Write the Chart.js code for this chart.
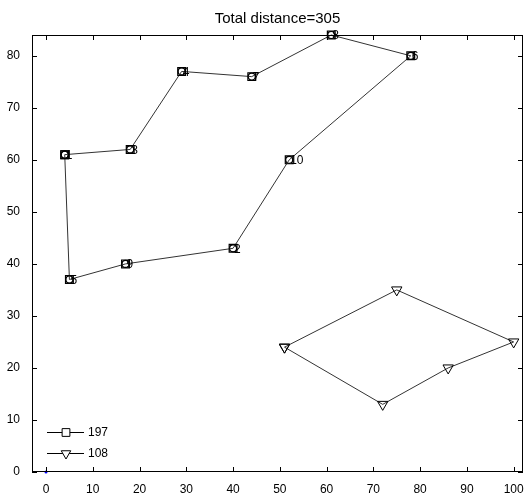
<!DOCTYPE html>
<html>
<head>
<meta charset="utf-8">
<script src="https://cdn.jsdelivr.net/npm/chart.js@4/dist/chart.umd.min.js"></script>
<style>
  html, body { margin: 0; padding: 0; background: #fff; }
  #wrap { position: relative; width: 524px; height: 493px; }
</style>
</head>
<body>
<div id="wrap"><canvas id="c" width="524" height="493"></canvas></div>
<script>
// ---- data ----
const titleText = "Total distance=305";
const routeALabel = "197";
const routeAX = [4, 18, 29, 44, 61, 78, 52, 40, 17, 5, 4];
const routeAY = [61, 62, 77, 76, 84, 80, 60, 43, 40, 37, 61];
const routeANames = ["1", "3", "4", "7", "8", "6", "10", "2", "9", "5"];
const routeBLabel = "108";
const routeBX = [51, 75, 100, 86, 72, 51];
const routeBY = [24, 35, 25, 20, 13, 24];
const depotX = [0];
const depotY = [0];
const xTickValues = [0, 10, 20, 30, 40, 50, 60, 70, 80, 90, 100];
const yTickValues = [0, 10, 20, 30, 40, 50, 60, 70, 80];

const toPts = (xs, ys) => xs.map((x, i) => ({ x: x, y: ys[i] }));
const FONT = '"Liberation Sans", Arial, sans-serif';

const framePlugin = {
  id: 'frame',
  afterDatasetsDraw(chart) {
    const ctx = chart.ctx;
    const a = chart.chartArea;
    const xs = chart.scales.x, ys = chart.scales.y;
    ctx.save();
    // box
    ctx.strokeStyle = '#000';
    ctx.lineWidth = 1;
    ctx.strokeRect(Math.round(a.left) + 0.5, Math.round(a.top) + 0.5,
                   Math.round(a.right - a.left) - 1, Math.round(a.bottom - a.top) - 1);
    // inward ticks
    ctx.beginPath();
    xs.ticks.forEach(t => {
      const px = Math.round(xs.getPixelForValue(t.value)) + 0.5;
      ctx.moveTo(px, a.bottom); ctx.lineTo(px, a.bottom - 5);
      ctx.moveTo(px, a.top); ctx.lineTo(px, a.top + 5);
    });
    ys.ticks.forEach(t => {
      const py = Math.round(ys.getPixelForValue(t.value)) + 0.5;
      ctx.moveTo(a.left, py); ctx.lineTo(a.left + 5, py);
      ctx.moveTo(a.right, py); ctx.lineTo(a.right - 5, py);
    });
    ctx.stroke();
    // point names
    ctx.fillStyle = '#000';
    ctx.font = '12px ' + FONT;
    ctx.textAlign = 'left';
    ctx.textBaseline = 'middle';
    routeANames.forEach((n, i) => {
      const px = xs.getPixelForValue(routeAX[i]);
      const py = ys.getPixelForValue(routeAY[i]);
      ctx.fillText(n, px + 1, py + 1);
    });
    // title
    ctx.font = '15px ' + FONT;
    ctx.textAlign = 'center';
    ctx.textBaseline = 'alphabetic';
    ctx.fillText(titleText, (a.left + a.right) / 2, 23);
    // legend
    const items = [
      { label: routeALabel, style: 'rect', r: 5.5, rot: 0 },
      { label: routeBLabel, style: 'triangle', r: 5.5, rot: 180 }
    ];
    items.forEach((it, k) => {
      const y = 432 + k * 20.5;
      ctx.strokeStyle = '#000';
      ctx.lineWidth = 1;
      ctx.beginPath();
      ctx.moveTo(47, Math.round(y) + 0.5); ctx.lineTo(84, Math.round(y) + 0.5);
      ctx.stroke();
      ctx.fillStyle = '#fff';
      Chart.helpers.drawPoint(ctx, { pointStyle: it.style, radius: it.r, rotation: it.rot, borderWidth: 1 }, 66, Math.round(y) + 0.5);
      ctx.fillStyle = '#000';
      ctx.font = '12px ' + FONT;
      ctx.textAlign = 'left';
      ctx.textBaseline = 'middle';
      ctx.fillText(it.label, 88, y + 1);
    });
    ctx.restore();
  }
};

new Chart(document.getElementById('c'), {
  type: 'scatter',
  data: {
    datasets: [
      {
        label: routeALabel,
        data: toPts(routeAX, routeAY),
        showLine: true,
        clip: false,
        borderColor: '#333',
        borderWidth: 1,
        pointStyle: 'rect',
        pointRadius: 5.5,
        pointBorderColor: '#000',
        pointBackgroundColor: 'rgba(255,255,255,0)',
        pointBorderWidth: 1.2
      },
      {
        label: routeALabel + ' circles',
        data: toPts(routeAX, routeAY),
        showLine: false,
        clip: false,
        pointStyle: 'circle',
        pointRadius: 3.5,
        pointBorderColor: '#000',
        pointBackgroundColor: 'rgba(255,255,255,0)',
        pointBorderWidth: 1.2
      },
      {
        label: routeBLabel,
        data: toPts(routeBX, routeBY),
        showLine: true,
        clip: false,
        borderColor: '#333',
        borderWidth: 1,
        pointStyle: 'triangle',
        pointRotation: 180,
        pointRadius: 6,
        pointBorderColor: '#000',
        pointBackgroundColor: 'rgba(255,255,255,0)',
        pointBorderWidth: 1
      },
      {
        label: 'depot',
        data: toPts(depotX, depotY),
        showLine: false,
        clip: false,
        pointStyle: 'circle',
        pointRadius: 1.5,
        pointBorderWidth: 0,
        pointBackgroundColor: '#0000ff'
      }
    ]
  },
  options: {
    responsive: false,
    animation: false,
    events: [],
    layout: { autoPadding: false, padding: { top: 35, left: 0, right: 1, bottom: 0 } },
    plugins: {
      legend: { display: false },
      title: { display: false },
      tooltip: { enabled: false }
    },
    scales: {
      x: {
        type: 'linear',
        min: -3,
        max: 102,
        afterBuildTicks: (s) => { s.ticks = xTickValues.map(v => ({ value: v })); },
        afterFit: (s) => { s.height = 21; s.paddingLeft = 0; s.paddingRight = 0; },
        grid: { display: false },
        border: { display: false },
        ticks: { color: '#000', font: { family: FONT, size: 12 }, padding: 2, maxRotation: 0, autoSkip: false }
      },
      y: {
        type: 'linear',
        min: 0,
        max: 84,
        afterBuildTicks: (s) => { s.ticks = yTickValues.map(v => ({ value: v })); },
        afterFit: (s) => { s.width = 32; s.paddingTop = 0; s.paddingBottom = 0; },
        grid: { display: false },
        border: { display: false },
        ticks: { color: '#000', font: { family: FONT, size: 12 }, padding: 4, autoSkip: false }
      }
    }
  },
  plugins: [framePlugin]
});
</script>
</body>
</html>
